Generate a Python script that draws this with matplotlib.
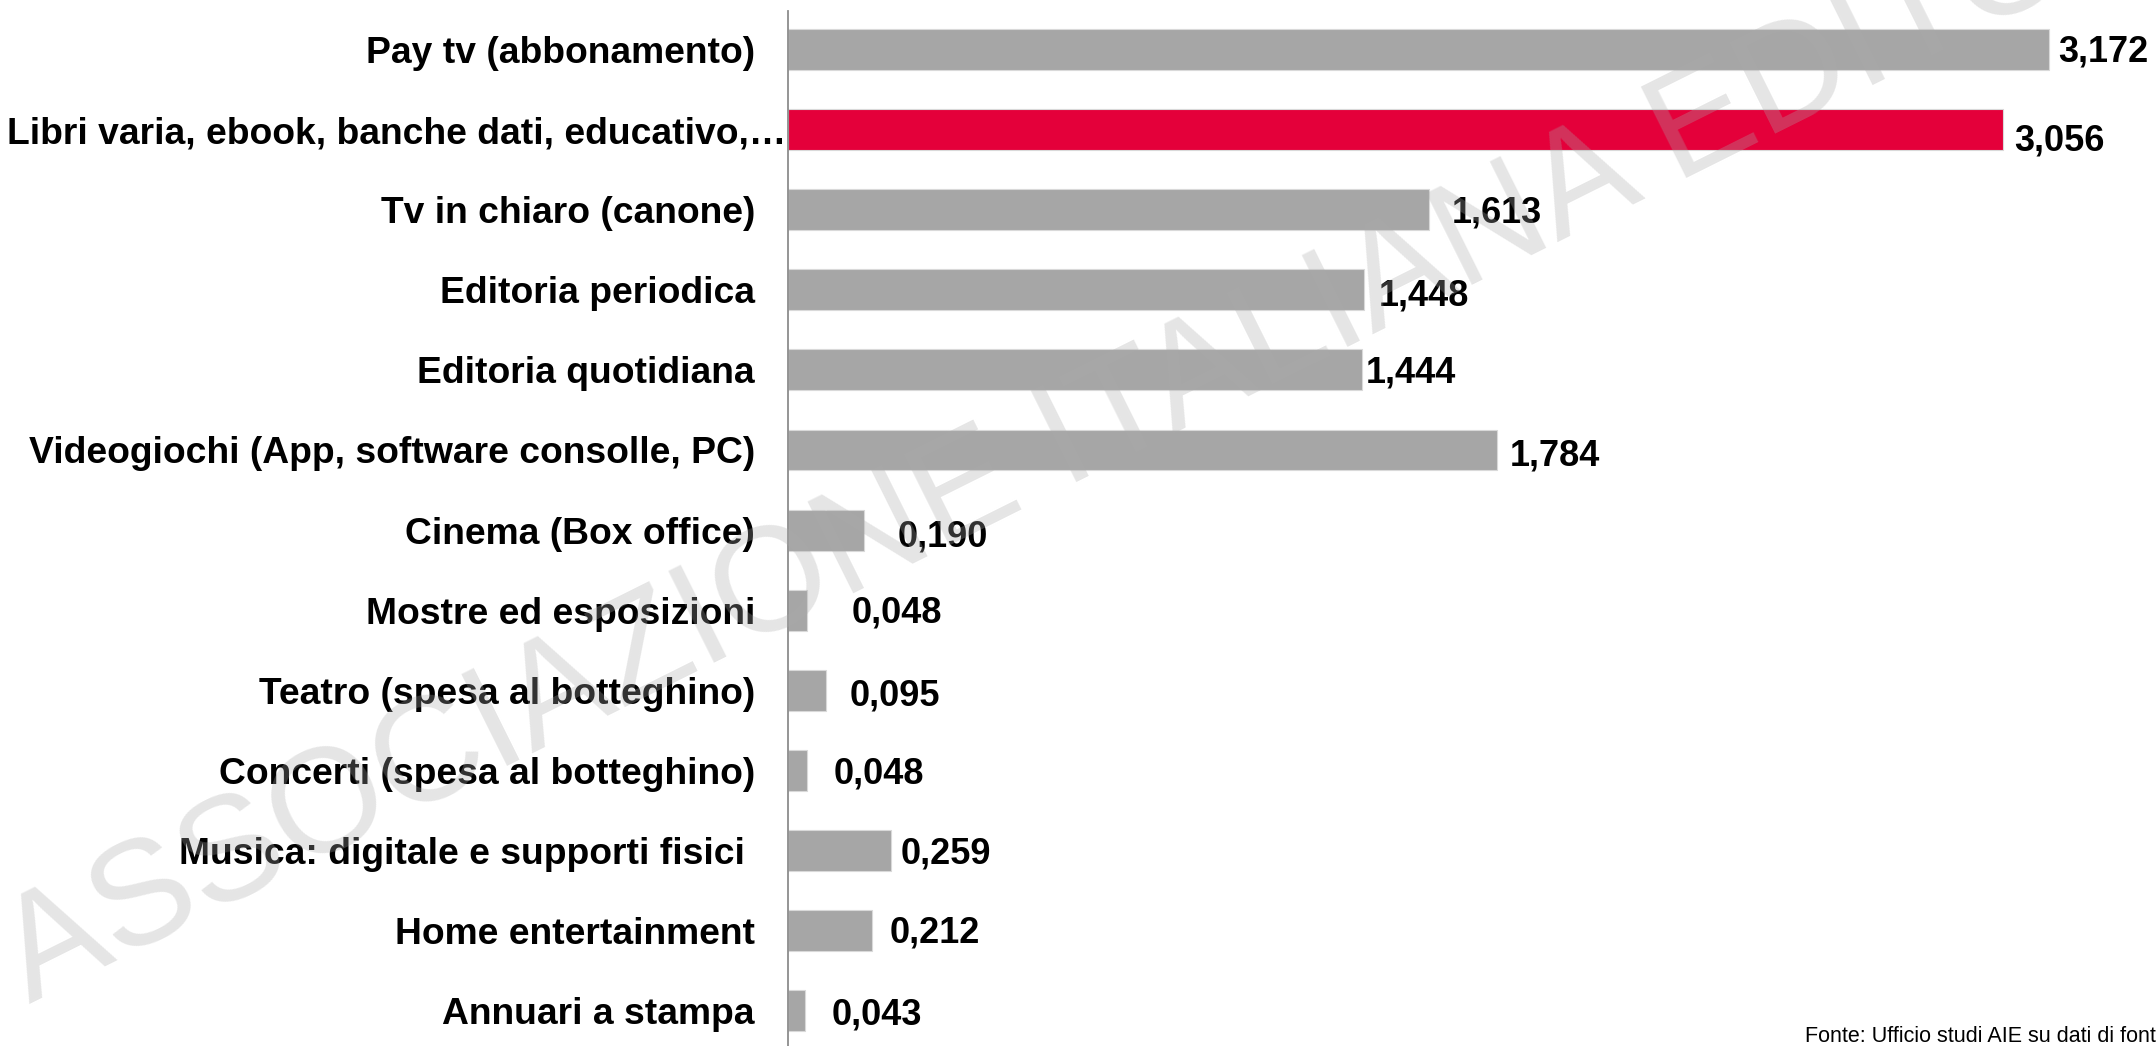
import matplotlib.pyplot as plt

# dati (miliardi di euro)
categories = [
    "Pay tv (abbonamento)",
    "Libri varia, ebook, banche dati, educativo,\u2026",
    "Tv in chiaro (canone)",
    "Editoria periodica",
    "Editoria quotidiana",
    "Videogiochi (App, software consolle, PC)",
    "Cinema (Box office)",
    "Mostre ed esposizioni",
    "Teatro (spesa al botteghino)",
    "Concerti (spesa al botteghino)",
    "Musica: digitale e supporti fisici ",
    "Home entertainment",
    "Annuari a stampa",
]
values = [3.172, 3.056, 1.613, 1.448, 1.444, 1.784, 0.190, 0.048, 0.095, 0.048, 0.259, 0.212, 0.043]
value_labels = ["3,172", "3,056", "1,613", "1,448", "1,444", "1,784", "0,190",
                "0,048", "0,095", "0,048", "0,259", "0,212", "0,043"]
highlight = "Libri varia, ebook, banche dati, educativo,\u2026"

# spostamenti delle etichette (pixel), come nell'originale
lab_dx = [9, 11, 23, 15, 4, 13, 34, 45, 24, 27, 10, 17, 27]
lab_dy = [0, -8, 0, -3, 0, -3, -4, 0, -3, -1, 0, 1, -1]

plt.rcParams['font.family'] = ['Liberation Sans', 'DejaVu Sans']

W, H = 2156, 1046
fig = plt.figure(figsize=(W / 100, H / 100), dpi=100)
x0, ytop = 788, 11
ax = fig.add_axes([x0 / W, 0, (W - x0) / W, (H - ytop) / H])

ypos = list(range(len(categories)))
colors = ['#E4003A' if c == highlight else '#A6A6A6' for c in categories]
ax.barh(ypos, values, height=0.51, color=colors, edgecolor='#D9D9D9', linewidth=0.8)

ax.set_xlim(0, (W - x0) / 397.5)
ax.set_ylim(12.44, -0.48)

for i, (v, t) in enumerate(zip(values, value_labels)):
    ax.annotate(t, (v, i), xytext=(lab_dx[i], lab_dy[i] - 3), textcoords='offset pixels',
                ha='left', va='center', fontsize=26, fontweight='bold', color='black')

# etichette categorie
for i, c in enumerate(categories):
    shift = 31 if c == highlight else 0
    ax.annotate(c, (0, i), xytext=(-33 + shift, -4), textcoords='offset pixels',
                ha='right', va='center', fontsize=26.8, fontweight='bold', color='black',
                annotation_clip=False)

ax.set_xticks([])
ax.set_yticks([])
for s in ['top', 'right', 'bottom']:
    ax.spines[s].set_visible(False)
ax.spines['left'].set_color('#8C8C8C')
ax.spines['left'].set_linewidth(1.3)

# filigrana
fig.text(30 / W, 1 - 1004 / H, "ASSOCIAZIONE ITALIANA EDITORI", fontsize=107,
         color='#AAAAAA', alpha=0.3, rotation=26.5, ha='left', va='baseline',
         rotation_mode='anchor', zorder=10)

fig.text(1805 / W, 1 - 1036 / H, "Fonte: Ufficio studi AIE su dati di font",
         fontsize=15.5, ha='left', va='center', color='black')

fig.savefig('out.png', dpi=100)
